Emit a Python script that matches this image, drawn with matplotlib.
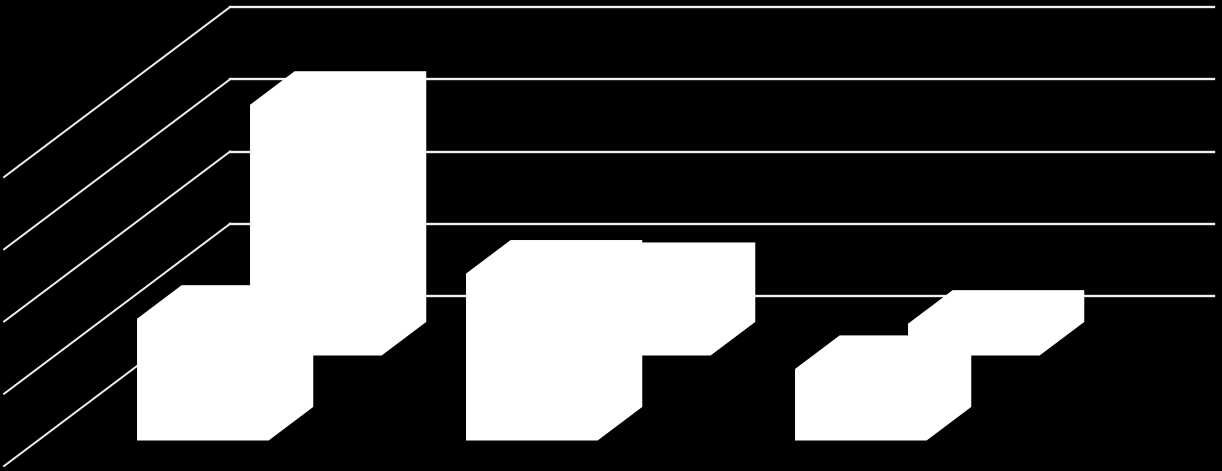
import matplotlib
matplotlib.use('Agg')
import matplotlib.pyplot as plt

# values, no text is visible in the reference
front_values = [1.685, 2.31, 0.99]
back_values = [3.47, 1.10, 0.44]
grid_levels = [0, 1, 2, 3, 4]

bar_width = 0.4
bar_depth = 0.395
first_bar = 0.301
n_wall = 2.99

# oblique projection of (category, value, depth) to pixels
origin_x = 38
origin_y = 440.5
px_category = 329
px_value = 72.25
depth_dx = 113
depth_dy = 85


def project(x, value, depth):
    sx = origin_x + px_category * x + depth_dx * depth
    sy = origin_y - px_value * value - depth_dy * depth
    return sx, sy


def draw_bar(ax, x, value, depth):
    corners = [
        project(x, 0, depth),
        project(x, value, depth),
        project(x, value, depth + bar_depth),
        project(x + bar_width, value, depth + bar_depth),
        project(x + bar_width, 0, depth + bar_depth),
        project(x + bar_width, 0, depth),
    ]
    xs, ys = zip(*corners)
    ax.fill(xs, ys, facecolor='white', edgecolor='none', zorder=3)


fig = plt.figure(figsize=(12.22, 4.71), dpi=100, facecolor='black')
ax = fig.add_axes([0, 0, 1, 1])
ax.set_xlim(0, 1222)
ax.set_ylim(471, 0)
ax.axis('off')

wall_depth = 1.7
near_depth = -0.3
for level in grid_levels:
    x1, y1 = project(0, level, near_depth)
    x2, y2 = project(0, level, wall_depth)
    x3, y3 = project(n_wall, level, wall_depth)
    ax.plot([x1, x2], [y1, y2], color='#f0f0f0', linewidth=1.4, zorder=1)
    ax.plot([x2, x3], [y2, y3], color='#f0f0f0', linewidth=1.7, zorder=1)

for i, value in enumerate(back_values):
    draw_bar(ax, first_bar + i, value, 1)
for i, value in enumerate(front_values):
    draw_bar(ax, first_bar + i, value, 0)

fig.savefig('out.png', dpi=100, facecolor='black')
plt.close(fig)
